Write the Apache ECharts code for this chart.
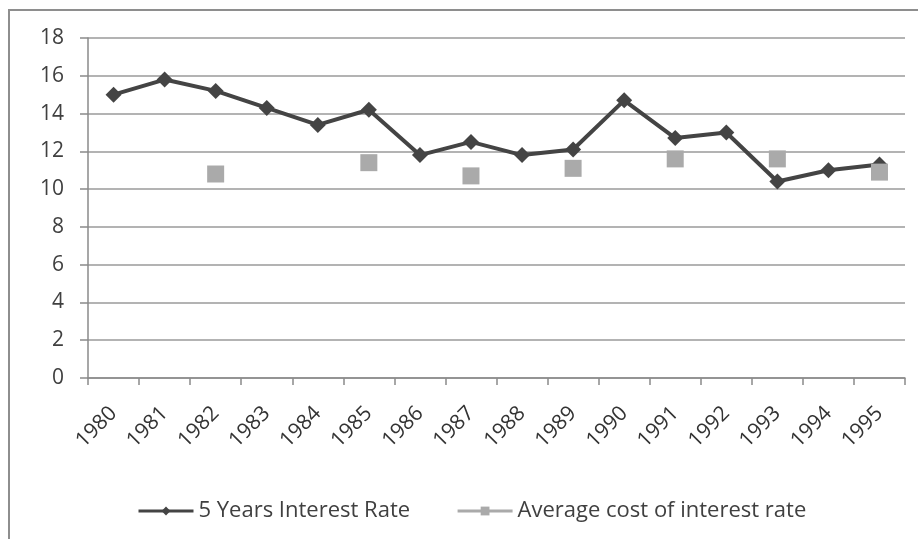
<!DOCTYPE html>
<html>
<head>
<meta charset="utf-8">
<script src="https://cdn.jsdelivr.net/npm/echarts@6/dist/echarts.min.js"></script>
<style>
  html, body { margin: 0; padding: 0; background: #ffffff; }
  #chart { width: 918px; height: 539px; }
</style>
</head>
<body>
<div id="chart"></div>
<script>
// Years on the category axis
const years = ['1980','1981','1982','1983','1984','1985','1986','1987',
               '1988','1989','1990','1991','1992','1993','1994','1995'];

// 5-year interest rate, every year
const fiveYearRate = [15.0, 15.8, 15.2, 14.3, 13.4, 14.2, 11.8, 12.5,
                      11.8, 12.1, 14.7, 12.7, 13.0, 10.4, 11.0, 11.3];

// Average cost of interest rate, reported every other year
const avgCost = [null, null, 10.8, null, null, 11.4, null, 10.7,
                 null, 11.1, null, 11.6, null, 11.6, null, 10.9];

// Value-axis ticks
const yTicks = { min: 0, max: 18, step: 2 };

const textColor = '#404040';
const fontFamily = '"Open Sans", Lato, sans-serif';

const chart = echarts.init(document.getElementById('chart'), null, { renderer: 'canvas' });

chart.setOption({
  animation: false,
  backgroundColor: '#ffffff',
  textStyle: { fontFamily: fontFamily, color: textColor },
  graphic: [{
    type: 'rect',
    shape: { x: 9, y: 10, width: 930, height: 560 },
    style: { fill: 'none', stroke: '#8e8e8e', lineWidth: 2 },
    silent: true,
    z: 0
  }],
  grid: { left: 88, right: 13, top: 38, bottom: 161, containLabel: false },
  legend: {
    left: 132,
    top: 495,
    itemWidth: 55,
    itemHeight: 11,
    itemGap: 46,
    textStyle: { fontSize: 22, color: textColor, fontFamily: fontFamily },
    data: [
      { name: '5 Years Interest Rate', itemStyle: { color: '#444444' }, lineStyle: { width: 3 } },
      { name: 'Average cost of interest rate', itemStyle: { color: '#aaaaaa' }, lineStyle: { width: 3 } }
    ]
  },
  xAxis: {
    type: 'category',
    data: years,
    boundaryGap: true,
    axisLine: { show: true, lineStyle: { color: '#8a8a8a', width: 1.5 } },
    axisTick: { show: true, length: 7, alignWithLabel: false, lineStyle: { color: '#8a8a8a', width: 1.5 } },
    axisLabel: { rotate: 45, fontSize: 21, color: '#333333', margin: 32, interval: 0, fontFamily: fontFamily },
    splitLine: { show: false }
  },
  yAxis: {
    type: 'value',
    min: yTicks.min,
    max: yTicks.max,
    interval: yTicks.step,
    axisLine: { show: true, lineStyle: { color: '#8a8a8a', width: 1.5 } },
    axisTick: { show: true, inside: false, length: 8, lineStyle: { color: '#8a8a8a', width: 1.5 } },
    axisLabel: { fontSize: 21, color: textColor, margin: 24, fontFamily: fontFamily },
    splitLine: { show: true, lineStyle: { color: '#9a9a9a', width: 1.5 } }
  },
  series: [
    {
      name: '5 Years Interest Rate',
      type: 'line',
      data: fiveYearRate,
      symbol: 'diamond',
      symbolSize: 16,
      showAllSymbol: true,
      lineStyle: { color: '#444444', width: 4 },
      itemStyle: { color: '#444444' },
      z: 3
    },
    {
      name: 'Average cost of interest rate',
      type: 'line',
      data: avgCost,
      connectNulls: false,
      symbol: 'rect',
      symbolSize: 17,
      showAllSymbol: true,
      lineStyle: { color: '#aaaaaa', width: 4 },
      itemStyle: { color: '#aaaaaa' },
      z: 4
    }
  ]
});
</script>
</body>
</html>
